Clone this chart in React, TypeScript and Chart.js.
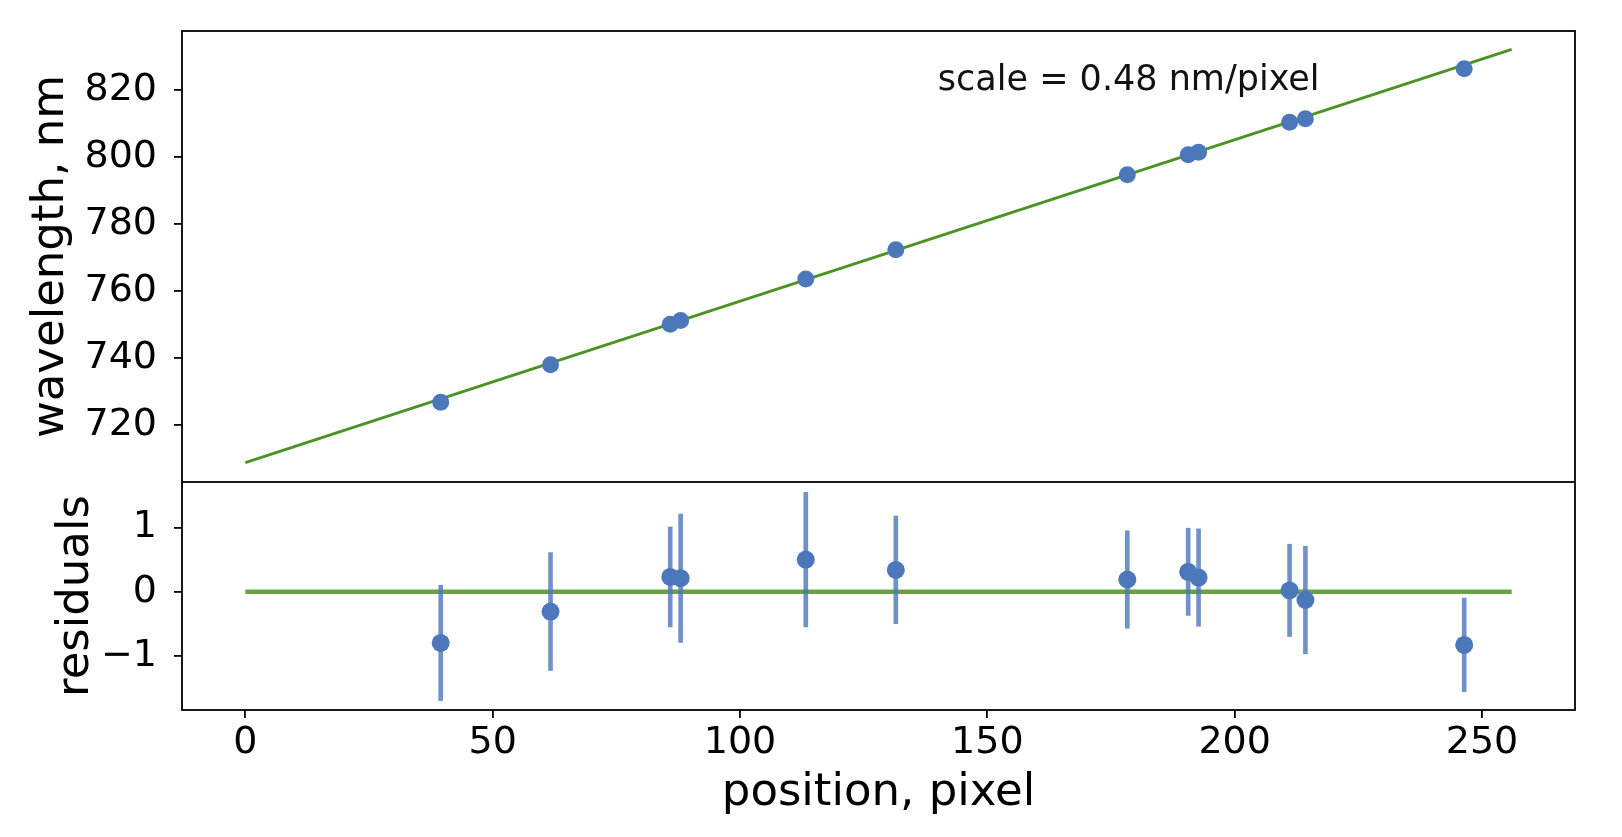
import { useEffect, useRef } from 'react';
import { Chart, registerables } from 'chart.js';

Chart.register(...registerables);

// calibration lines
const positions = [39.5, 61.7, 85.9, 88.0, 113.3, 131.5, 178.3, 190.6, 192.7, 211.1, 214.3, 246.4];
const wavelengths = [726.8, 738.0, 750.1, 751.2, 763.6, 772.3, 794.7, 800.7, 801.4, 810.4, 811.4, 826.3];
const residuals = [-0.8, -0.31, 0.23, 0.21, 0.5, 0.34, 0.19, 0.31, 0.22, 0.02, -0.13, -0.83];
const residualErrors = [0.9, 0.92, 0.78, 1.0, 1.05, 0.84, 0.76, 0.68, 0.76, 0.72, 0.84, 0.73];

// linear fit, drawn over the detector range
const fitPositions = [0, 256];
const fitWavelengths = [708.8, 832.1];
const zeroResiduals = [0, 0];

const wavelengthTicks = [720, 740, 760, 780, 800, 820];
const residualTicks = [-1, 0, 1];
const positionTicks = [0, 50, 100, 150, 200, 250];

const scaleNote = 'scale = 0.48 nm/pixel';
const scaleNoteAt = { x: 140, y: 820 };

const FIG_W = 1622;
const FIG_H = 837;
const AX_LEFT = 182;
const AX_RIGHT = 1575;
const AX_TOP = 31;
const SPLIT = 482;
const AX_BOTTOM = 710;

const BLUE = '#4c77bb';
const BLUE_BAR = 'rgba(76, 119, 187, 0.8)';
const GREEN = '#4d9224';
const GREEN_SOFT = 'rgba(77, 146, 36, 0.85)';
const FONT = '"DejaVu Sans"';

const tickFont = { family: FONT, size: 38 };
const labelFont = { family: FONT, size: 45 };

const tickGrid = {
    drawOnChartArea: false,
    drawTicks: true,
    tickLength: 8,
    color: '#000',
    lineWidth: 1.8,
    offset: false,
};

const framePlugin = {
    id: 'frame',
    afterDatasetsDraw(chart: any) {
        const { ctx, chartArea: a } = chart;
        ctx.save();
        ctx.strokeStyle = '#000';
        ctx.lineWidth = 1.8;
        ctx.strokeRect(a.left, a.top, a.right - a.left, a.bottom - a.top);
        ctx.restore();
    },
};

const notePlugin = {
    id: 'note',
    afterDatasetsDraw(chart: any) {
        const { ctx, scales } = chart;
        ctx.save();
        ctx.font = `35px ${FONT}`;
        ctx.fillStyle = '#111';
        ctx.textAlign = 'left';
        ctx.textBaseline = 'alphabetic';
        ctx.fillText(scaleNote, scales.x.getPixelForValue(scaleNoteAt.x), scales.y.getPixelForValue(scaleNoteAt.y));
        ctx.restore();
    },
};

const minus = (v: number) => (v < 0 ? '\u2212' + Math.abs(v) : String(v));

function xScale(visible: boolean): any {
    return {
        type: 'linear',
        display: visible,
        min: -12.8,
        max: 268.8,
        offset: false,
        afterBuildTicks: (s: any) => {
            s.ticks = positionTicks.map((v) => ({ value: v }));
        },
        afterFit: (s: any) => {
            if (visible) s.height = FIG_H - AX_BOTTOM;
            s.paddingLeft = 0;
            s.paddingRight = 0;
        },
        grid: tickGrid,
        border: { display: false },
        ticks: { color: '#000', font: tickFont, padding: 2, maxRotation: 0 },
        title: {
            display: true,
            text: 'position, pixel',
            color: '#000',
            font: labelFont,
            padding: { top: 0, bottom: 17 },
        },
    };
}

function yScale(min: number, max: number, ticks: number[], label: string, titleGap: number): any {
    return {
        type: 'linear',
        min,
        max,
        afterBuildTicks: (s: any) => {
            s.ticks = ticks.map((v) => ({ value: v }));
        },
        afterFit: (s: any) => {
            s.width = AX_LEFT;
            s.paddingTop = 0;
            s.paddingBottom = 0;
        },
        grid: tickGrid,
        border: { display: false },
        ticks: { color: '#000', font: tickFont, padding: 17, callback: (v: any) => minus(Number(v)) },
        title: { display: true, text: label, color: '#000', font: labelFont, padding: { top: titleGap, bottom: 0 } },
    };
}

const baseOptions = {
    responsive: true,
    maintainAspectRatio: false,
    animation: false,
    plugins: { legend: { display: false }, tooltip: { enabled: false } },
};

export default function App() {
    const topRef = useRef<HTMLCanvasElement>(null);
    const bottomRef = useRef<HTMLCanvasElement>(null);

    useEffect(() => {
        if (!topRef.current || !bottomRef.current) return;

        const top = new Chart(topRef.current, {
            type: 'scatter',
            data: {
                datasets: [
                    {
                        type: 'scatter',
                        data: positions.map((x, i) => ({ x, y: wavelengths[i] })),
                        backgroundColor: BLUE,
                        borderWidth: 0,
                        pointRadius: 8.5,
                    },
                    {
                        type: 'line',
                        data: fitPositions.map((x, i) => ({ x, y: fitWavelengths[i] })),
                        borderColor: GREEN,
                        borderWidth: 3,
                        pointRadius: 0,
                        fill: false,
                    },
                ],
            } as any,
            options: {
                ...baseOptions,
                layout: {
                    autoPadding: false,
                    padding: { left: 0, top: AX_TOP, right: FIG_W - AX_RIGHT, bottom: 0 },
                },
                scales: {
                    x: xScale(false),
                    y: yScale(703.0, 837.6, wavelengthTicks, 'wavelength, nm', 24),
                },
            } as any,
            plugins: [framePlugin, notePlugin],
        });

        const bottom = new Chart(bottomRef.current, {
            type: 'scatter',
            data: {
                datasets: [
                    {
                        type: 'scatter',
                        data: positions.map((x, i) => ({ x, y: residuals[i] })),
                        backgroundColor: BLUE,
                        borderWidth: 0,
                        pointRadius: 9,
                    },
                    {
                        type: 'bar',
                        data: positions.map((x, i) => ({
                            x,
                            y: [residuals[i] - residualErrors[i], residuals[i] + residualErrors[i]],
                        })),
                        backgroundColor: BLUE_BAR,
                        borderWidth: 0,
                        barThickness: 4,
                    },
                    {
                        type: 'line',
                        data: fitPositions.map((x, i) => ({ x, y: zeroResiduals[i] })),
                        borderColor: GREEN_SOFT,
                        borderWidth: 4.5,
                        pointRadius: 0,
                        fill: false,
                    },
                ],
            } as any,
            options: {
                ...baseOptions,
                layout: {
                    autoPadding: false,
                    padding: { left: 0, top: 0, right: FIG_W - AX_RIGHT, bottom: 0 },
                },
                scales: {
                    x: xScale(true),
                    y: yScale(-1.846, 1.711, residualTicks, 'residuals', 49),
                },
            } as any,
            plugins: [framePlugin],
        });

        return () => {
            top.destroy();
            bottom.destroy();
        };
    }, []);

    return (
        <div style={{ position: 'absolute', left: 0, top: 0, width: FIG_W, height: FIG_H, background: '#fff' }}>
            <div style={{ position: 'absolute', left: 0, top: 0, width: FIG_W, height: SPLIT }}>
                <canvas ref={topRef} />
            </div>
            <div style={{ position: 'absolute', left: 0, top: SPLIT, width: FIG_W, height: FIG_H - SPLIT }}>
                <canvas ref={bottomRef} />
            </div>
        </div>
    );
}
